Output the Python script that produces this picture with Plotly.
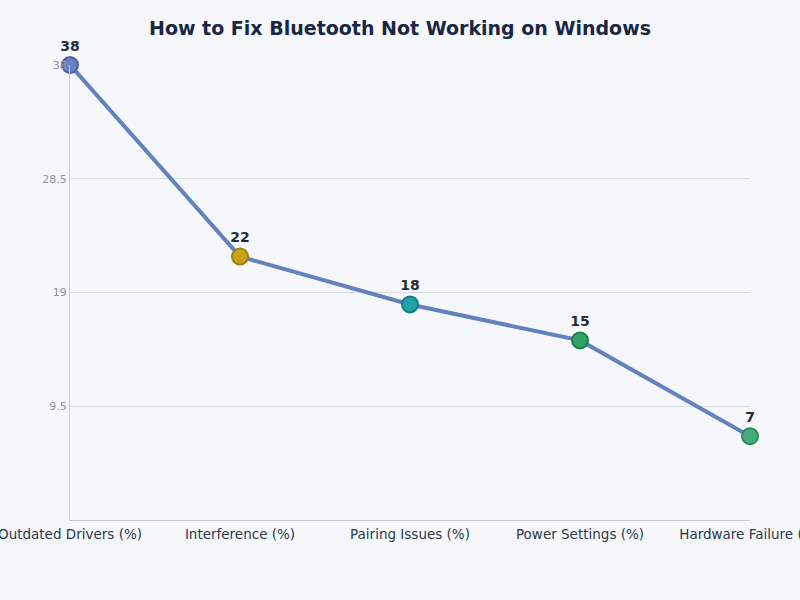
import plotly.graph_objects as go

# Bluetooth failure causes (share of cases, %)
CAUSES = [
    "Outdated Drivers (%)",
    "Interference (%)",
    "Pairing Issues (%)",
    "Power Settings (%)",
    "Hardware Failure (%)",
]
SHARES = [38, 22, 18, 15, 7]
Y_TICKS = [9.5, 19, 28.5, 38]
Y_TICK_TEXT = ["9.5", "19", "28.5", "38"]

MARKER_FILL = ["#6a80c0", "#c9a41b", "#22a3aa", "#2ea565", "#47ab7c"]
MARKER_EDGE = ["#4a62a4", "#a08010", "#117e86", "#1d7f48", "#2c8a5c"]
LINE = "#6381bd"
INK = "#1a2744"
BG = "#f5f7fb"

fig = go.Figure(
    go.Scatter(
        x=CAUSES,
        y=SHARES,
        mode="lines+markers+text",
        line=dict(color=LINE, width=4),
        marker=dict(size=16, color=MARKER_FILL, line=dict(width=2, color=MARKER_EDGE)),
        text=[str(v) for v in SHARES],
        textposition="top center",
        textfont=dict(family="DejaVu Sans", size=14, color="#252b3b", weight="bold"),
        cliponaxis=False,
        showlegend=False,
    )
)

fig.update_xaxes(
    range=[0, 4],
    automargin=False,
    showgrid=False,
    showline=True,
    linecolor="#c5cad3",
    ticks="",
    ticklabelstandoff=2,
    tickfont=dict(family="DejaVu Sans", size=13.5, color="#2d3748"),
)
fig.update_yaxes(
    range=[0, 38],
    automargin=False,
    tickvals=Y_TICKS,
    ticktext=Y_TICK_TEXT,
    showgrid=True,
    gridcolor="#d8dce3",
    showline=True,
    linecolor="#c5cad3",
    zeroline=False,
    ticks="",
    tickfont=dict(family="DejaVu Sans", size=11, color="#8a93a3"),
)

fig.update_layout(
    title=dict(
        text="<b>How to Fix Bluetooth Not Working on Windows</b>",
        x=0.5, xanchor="center", y=1 - 28 / 600, yanchor="middle",
        font=dict(family="DejaVu Sans", size=19, color=INK),
    ),
    paper_bgcolor=BG,
    plot_bgcolor=BG,
    width=800,
    height=600,
    margin=dict(l=70, r=50, t=65, b=80),
)

# page body has a default 8px margin; drop it so the figure sits flush
fig.write_html(
    "out.html",
    config={"displayModeBar": False},
    post_script="document.body.style.margin='0';",
)
